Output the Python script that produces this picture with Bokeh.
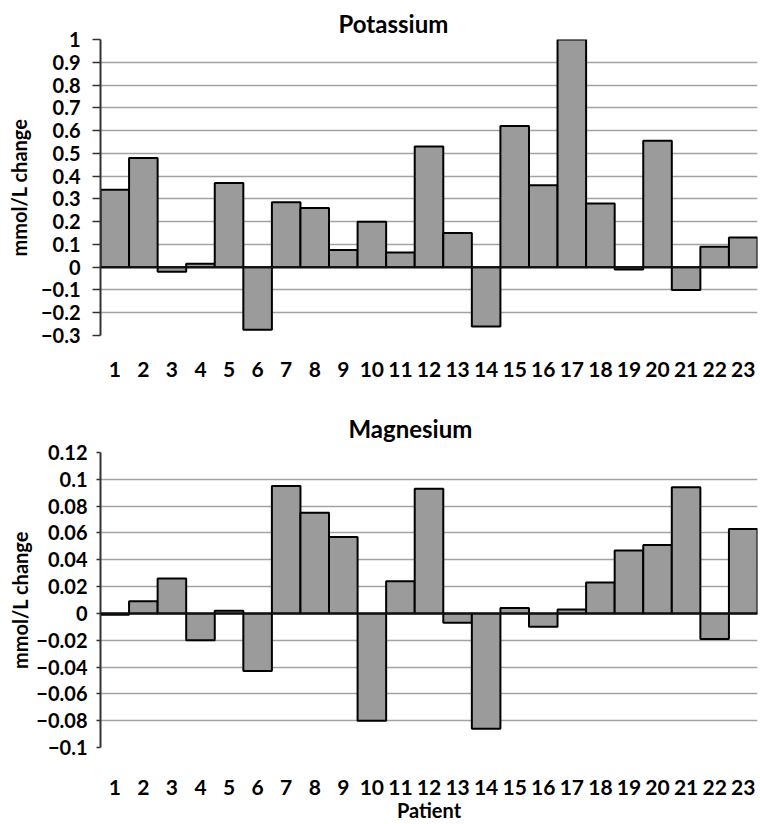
from bokeh.plotting import figure
from bokeh.layouts import column
from bokeh.models import (ColumnDataSource, FactorRange, FixedTicker, Span, Range1d,
                          CustomJSTickFormatter)
from bokeh.embed import file_html
from bokeh.resources import INLINE

patients = [str(i) for i in range(1, 24)]

potassium = [0.34, 0.48, -0.02, 0.015, 0.37, -0.275, 0.285, 0.26, 0.075, 0.20,
             0.065, 0.53, 0.15, -0.26, 0.62, 0.36, 1.0, 0.28, -0.01, 0.555,
             -0.10, 0.09, 0.13]
magnesium = [-0.001, 0.009, 0.026, -0.02, 0.002, -0.043, 0.095, 0.075, 0.057, -0.080,
             0.024, 0.093, -0.007, -0.086, 0.004, -0.010, 0.003, 0.023, 0.047, 0.051,
             0.094, -0.019, 0.063]

k_ticks = [1, 0.9, 0.8, 0.7, 0.6, 0.5, 0.4, 0.3, 0.2, 0.1, 0, -0.1, -0.2, -0.3]
k_tick_labels = ["1", "0.9", "0.8", "0.7", "0.6", "0.5", "0.4", "0.3", "0.2", "0.1",
                 "0", "\u22120.1", "\u22120.2", "\u22120.3"]
mg_ticks = [0.12, 0.1, 0.08, 0.06, 0.04, 0.02, 0, -0.02, -0.04, -0.06, -0.08, -0.1]
mg_tick_labels = ["0.12", "0.1", "0.08", "0.06", "0.04", "0.02", "0", "\u22120.02",
                  "\u22120.04", "\u22120.06", "\u22120.08", "\u22120.1"]

FONT = "Lato"
BAR_FILL = "#9b9b9b"


def make_chart(title, values, ticks, tick_labels, y_start, y_end, height,
               title_offset, title_standoff, title_valign, min_top, min_bottom,
               tick_out, label_standoff, axis_label_standoff, x_standoff,
               xlabel=None):
    src = ColumnDataSource(dict(patient=patients, value=values))
    p = figure(x_range=FactorRange(*patients, range_padding=0),
               y_range=Range1d(y_start, y_end),
               width=760, height=height, output_backend="svg",
               toolbar_location=None, title=title,
               min_border_left=100, min_border_right=3, min_border_top=min_top,
               min_border_bottom=min_bottom)
    p.title.text_font = FONT
    p.title.text_font_size = "24px"
    p.title.text_font_style = "bold"
    p.title.text_color = "black"
    p.title.align = "left"
    p.title.vertical_align = title_valign
    p.title.offset = title_offset
    p.title.standoff = title_standoff
    p.outline_line_color = None
    p.background_fill_color = "white"

    p.vbar(x="patient", top="value", bottom=0, width=1.0, source=src,
           fill_color=BAR_FILL, line_color="black", line_width=2)

    p.add_layout(Span(location=0, dimension="width", line_color="#111111",
                      line_width=2))

    p.xgrid.grid_line_color = None
    p.ygrid.grid_line_color = "#a3a3a3"
    p.ygrid.grid_line_width = 1.5

    p.yaxis.ticker = FixedTicker(ticks=ticks)
    p.yaxis.formatter = CustomJSTickFormatter(
        args=dict(tvals=ticks, tlabels=tick_labels),
        code="""
        for (let i = 0; i < tvals.length; i++) {
            if (Math.abs(tvals[i] - tick) < 1e-9) { return tlabels[i]; }
        }
        return String(tick);
        """)
    p.yaxis.axis_line_color = "#333333"
    p.yaxis.axis_line_width = 2
    p.yaxis.major_tick_line_color = "#333333"
    p.yaxis.major_tick_line_width = 1.5
    p.yaxis.major_tick_out = tick_out
    p.yaxis.major_tick_in = 0
    p.yaxis.minor_tick_line_color = None
    p.yaxis.major_label_standoff = label_standoff
    p.yaxis.major_label_text_font = FONT
    p.yaxis.major_label_text_font_size = "20px"
    p.yaxis.major_label_text_font_style = "bold"
    p.yaxis.major_label_text_color = "black"
    p.yaxis.axis_label = "mmol/L change"
    p.yaxis.axis_label_text_font = FONT
    p.yaxis.axis_label_text_font_size = "20px"
    p.yaxis.axis_label_text_font_style = "bold"
    p.yaxis.axis_label_text_color = "black"
    p.yaxis.axis_label_standoff = axis_label_standoff

    p.xaxis.axis_line_color = None
    p.xaxis.major_tick_line_color = None
    p.xaxis.minor_tick_line_color = None
    p.xaxis.major_label_standoff = x_standoff
    p.xaxis.major_label_text_font = FONT
    p.xaxis.major_label_text_font_size = "21px"
    p.xaxis.major_label_text_font_style = "bold"
    p.xaxis.major_label_text_color = "black"
    if xlabel:
        p.xaxis.axis_label = xlabel
        p.xaxis.axis_label_text_font = FONT
        p.xaxis.axis_label_text_font_size = "20px"
        p.xaxis.axis_label_text_font_style = "bold"
        p.xaxis.axis_label_text_color = "black"
        p.xaxis.axis_label_standoff = 0
    return p


p1 = make_chart("Potassium", potassium, k_ticks, k_tick_labels, -0.3, 1.0, 400,
                title_offset=238, title_standoff=0, title_valign="top",
                min_top=39, min_bottom=65,
                tick_out=8, label_standoff=12, axis_label_standoff=7, x_standoff=20)
p2 = make_chart("Magnesium", magnesium, mg_ticks, mg_tick_labels, -0.1, 0.12, 424,
                title_offset=248, title_standoff=20, title_valign="bottom",
                min_top=52, min_bottom=75,
                tick_out=4, label_standoff=9, axis_label_standoff=1, x_standoff=26,
                xlabel="Patient")

layout = column(p1, p2, spacing=0)
open("out.html", "w").write(file_html(layout, INLINE))
